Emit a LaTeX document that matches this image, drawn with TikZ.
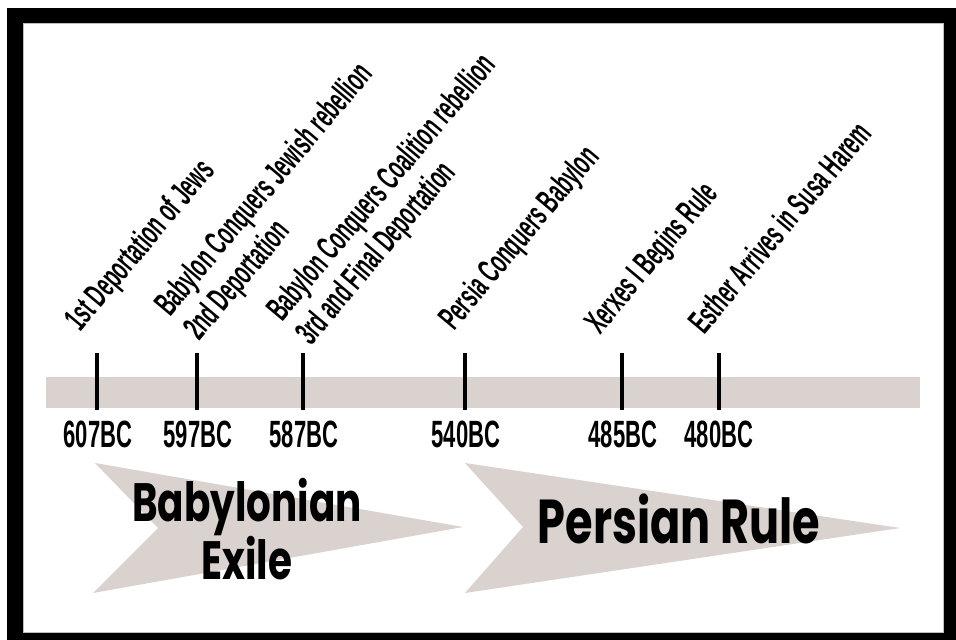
\documentclass[tikz,border=0pt]{standalone}
\usepackage{fontspec}
\newfontfamily\condfont{Liberation Sans}[FakeStretch=0.55]
\newfontfamily\yearfont{Liberation Sans}[FakeStretch=0.58]
\newfontfamily\chevfont{Poppins}[FakeStretch=0.72]
\definecolor{bandgray}{RGB}{217,210,207}

\begin{document}
\begin{tikzpicture}[x=1pt,y=-1pt,
  tick/.style={line width=3.5pt},
  year/.style={inner sep=0pt,font=\yearfont\bfseries\fontsize{38}{40}\selectfont},
  event/.style={rotate=50,anchor=base west,align=left,inner sep=0pt,
    font=\condfont\bfseries\fontsize{34}{38}\selectfont},
  chevron/.style={fill=bandgray},
  era/.style={inner sep=0pt,align=center}]
\useasboundingbox (0,0) rectangle (956,640);
\fill[black] (7,8) rectangle (956,640);
\draw[fill=white,draw=gray!50,line width=0.6pt] (23,23) rectangle (943,632);
\fill[bandgray] (46,377) rectangle (920,408);

\coordinate (t607) at (97,353);
\coordinate (t597) at (197,353);
\coordinate (t587) at (303,353);
\coordinate (t540) at (465,353);
\coordinate (t485) at (622,353);
\coordinate (t480) at (719,353);
\draw[tick] (t607) -- ++(0,57);
\draw[tick] (t597) -- ++(0,57);
\draw[tick] (t587) -- ++(0,57);
\draw[tick] (t540) -- ++(0,57);
\draw[tick] (t485) -- ++(0,57);
\draw[tick] (t480) -- ++(0,57);

\node[year] (y607) at (98,434) {607BC};
\node[year] (y597) at (198,434) {597BC};
\node[year] (y587) at (304,434) {587BC};
\node[year] (y540) at (466,434) {540BC};
\node[year] (y485) at (623,434) {485BC};
\node[year] (y480) at (719,434) {480BC};

\node[event] (e607) at ([shift={(-17,-20)}]t607) {1st Deportation of Jews};
\node[event] (e597) at ([shift={(2,-11)}]t597) {Babylon Conquers Jewish rebellion\\2nd Deportation};
\node[event] (e587) at ([shift={(8,-6)}]t587) {Babylon Conquers Coalition rebellion\\3rd and Final Deportation};
\node[event] (e540) at ([shift={(-11,-21)}]t540) {Persia Conquers Babylon};
\node[event] (e485) at ([shift={(-22,-17)}]t485) {Xerxes I Begins Rule};
\node[event] (e480) at ([shift={(-15,-17)}]t480) {Esther Arrives in Susa Harem};

\fill[chevron] (95,463) -- (463,527) -- (93,593) -- (158,528) -- cycle;
\fill[chevron] (465,463) -- (900,528) -- (465,593) -- (523,527) -- cycle;
\node[era,font=\chevfont\bfseries\fontsize{54}{58}\selectfont] (exile) at (247,529) {Babylonian\\Exile};
\node[era,font=\chevfont\bfseries\fontsize{62}{66}\selectfont] (persia) at (679,519) {Persian Rule};
\end{tikzpicture}
\end{document}
